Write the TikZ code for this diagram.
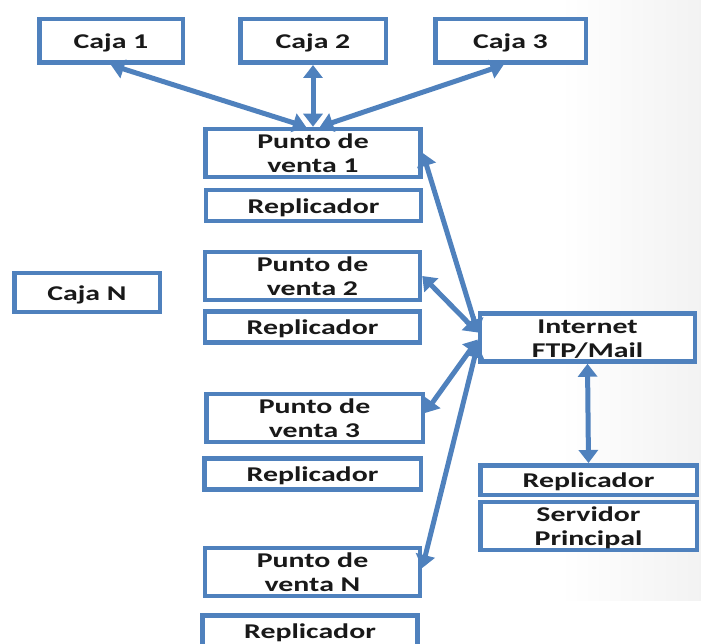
\documentclass[tikz,border=0pt]{standalone}
\usepackage{fontspec}
\setmainfont{Carlito}
\usepackage{graphicx}
\usetikzlibrary{arrows.meta,calc}
\definecolor{boxblue}{HTML}{4F81BD}
\newcommand{\wtxt}[1]{\raisebox{-3pt}[\height][\depth]{\scalebox{1.42}[1]{\begin{tabular}{@{}c@{}}#1\end{tabular}}}}
\tikzset{
  box/.style={draw=boxblue, line width=4.5pt, fill=white, inner sep=0pt,
    text=black!90, font=\fontsize{21}{24}\selectfont\bfseries},
  cajabox/.style={box, minimum width=143.5pt, minimum height=43.5pt},
  ptobox/.style={box, minimum width=215pt, minimum height=45.5pt},
  repbox/.style={box, minimum width=215pt, minimum height=31pt},
  link/.style={boxblue, line width=5pt,
    {Triangle[width=19pt,length=13pt]}-{Triangle[width=19pt,length=13pt]}},
}
\begin{document}
\begin{tikzpicture}[x=1pt, y=-1pt]
  \useasboundingbox (0,0) rectangle (701,644);
  % faint backdrop on the right
  \fill[left color=white, right color=black!5] (560,0) rectangle (701,600);
  % cajas
  \node[cajabox] (c1) at (111,41) {\wtxt{Caja 1}};
  \node[cajabox, minimum width=145.5pt] (c2) at (313,41) {\wtxt{Caja 2}};
  \node[cajabox, minimum width=150.5pt] (c3) at (510.5,41) {\wtxt{Caja 3}};
  \node[cajabox, minimum width=145.5pt, minimum height=38.5pt] (cn) at (87,292.5) {\wtxt{Caja N}};
  % puntos de venta with their replicadores
  \node[ptobox] (pv1) at (313,153) {\wtxt{Punto de\\venta 1}};
  \node[repbox] (rep1) at (313.5,205.5) {\wtxt{Replicador}};
  \node[ptobox, minimum height=47.5pt] (pv2) at (312.5,276) {\wtxt{Punto de\\venta 2}};
  \node[repbox] (rep2) at (312.5,327) {\wtxt{Replicador}};
  \node[ptobox, minimum width=216.5pt] (pv3) at (314.5,418) {\wtxt{Punto de\\venta 3}};
  \node[repbox, minimum width=216.5pt] (rep3) at (312.5,474) {\wtxt{Replicador}};
  \node[ptobox] (pvN) at (312.5,572) {\wtxt{Punto de\\venta N}};
  \node[repbox] (repN) at (310,631) {\wtxt{Replicador}};
  % servidor side
  \node[ptobox, minimum height=44.5pt] (inet) at (587.5,337.5) {\wtxt{Internet\\FTP/Mail}};
  \node[repbox, minimum width=216.5pt, minimum height=29.5pt] (repsrv) at (588.5,480) {\wtxt{Replicador}};
  \node[ptobox, minimum width=216.5pt, minimum height=47.5pt] (srv) at (588.5,526) {\wtxt{Servidor\\Principal}};
  % links
  \draw[link] (c1.south) -- ($(pv1.north)+(-7,0)$);
  \draw[link] (c2.south) -- (pv1.north);
  \draw[link] ($(c3.south)+(-7,0)$) -- ($(pv1.north)+(7,0)$);
  \draw[link] (pv1.east) -- ($(inet.west)+(0,-5)$);
  \draw[link] (pv2.east) -- ($(inet.west)+(0,-5)$);
  \draw[link] ($(inet.west)+(0,2)$) -- ($(pv3.east)+(0,-5)$);
  \draw[link] ($(inet.west)+(0,7)$) -- ($(pvN.east)+(0,-4)$);
  \draw[link] (inet.south) -- (repsrv.north);
\end{tikzpicture}
\end{document}
